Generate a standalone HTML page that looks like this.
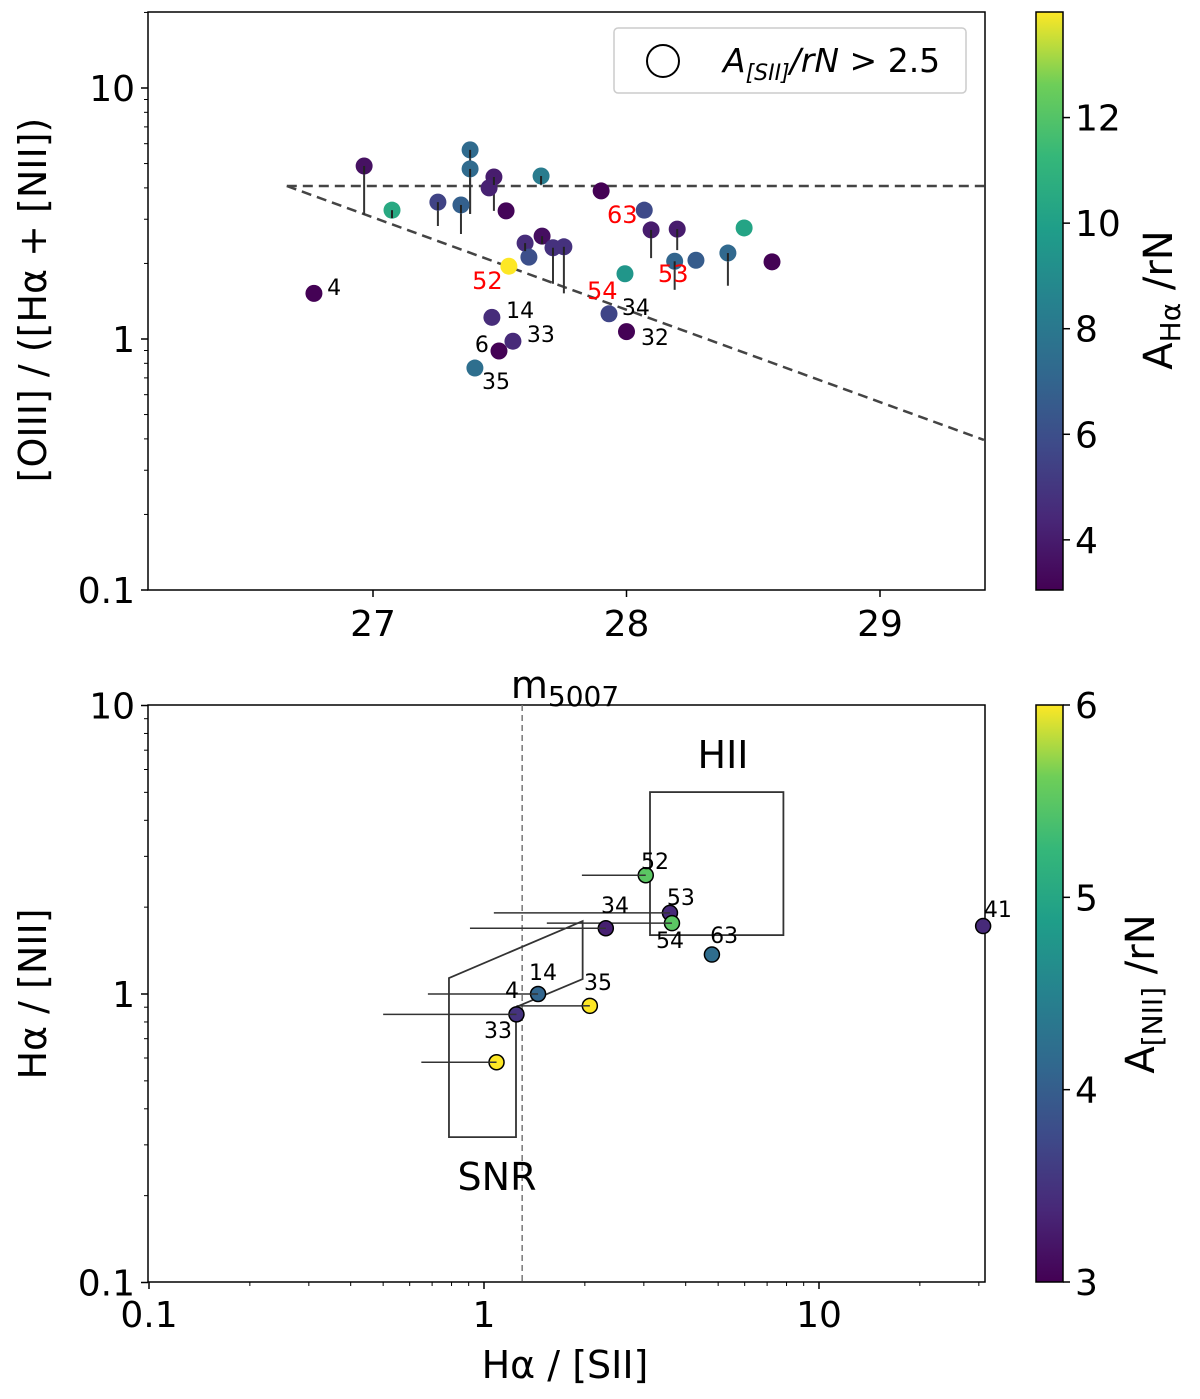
<!DOCTYPE html>
<html><head><meta charset="utf-8"><style>body{margin:0;background:#fff}svg{display:block;font-family:"DejaVu Sans","Liberation Sans",sans-serif}</style></head>
<body>
<svg id="c" width="1200" height="1399" viewBox="0 0 1200 1399" xmlns="http://www.w3.org/2000/svg">
<defs>
<linearGradient id="vir" x1="0" y1="1" x2="0" y2="0">
<stop offset="0" stop-color="#440154"/><stop offset="0.125" stop-color="#482878"/><stop offset="0.25" stop-color="#3e4a89"/><stop offset="0.375" stop-color="#31688e"/><stop offset="0.5" stop-color="#26828e"/><stop offset="0.625" stop-color="#1f9e89"/><stop offset="0.75" stop-color="#35b779"/><stop offset="0.875" stop-color="#6ece58"/><stop offset="1" stop-color="#fde725"/>
</linearGradient>
</defs>
</svg>
<script>
// ---- top panel data ----
const topMag=[26.965,27.075,27.256,27.347,27.383,27.383,27.477,27.458,27.525,27.663,27.9,28.07,28.097,28.2,28.464,27.6,27.667,27.615,27.71,27.753,27.536,28.19,28.274,28.40,28.574,27.994,26.767,27.469,27.552,27.497,27.402,27.931,28.0];
const topRatio=[4.89,3.26,3.51,3.42,5.67,4.76,4.42,4.0,3.24,4.46,3.89,3.26,2.72,2.74,2.77,2.41,2.57,2.12,2.31,2.33,1.95,2.04,2.06,2.20,2.03,1.82,1.52,1.22,0.98,0.896,0.766,1.26,1.07];
const topLow=[3.12,3.2,2.82,2.62,3.15,3.15,3.24,4.0,3.24,4.1,3.89,3.26,2.10,2.26,2.77,2.1,2.5,2.12,1.66,1.52,1.95,1.57,2.06,1.63,2.03,1.82,1.52,1.22,0.98,0.896,0.766,1.26,1.07];
const topColor=[3.6,10.5,5.5,6.8,7.3,7.3,4.0,4.2,3.2,8.2,3.0,5.8,4.0,4.0,10.2,4.6,3.5,6.0,4.8,4.8,14.0,7.0,6.6,7.2,3.1,9.5,3.1,4.6,4.5,3.1,7.5,5.6,3.1];
const topLabels=["4","14","33","6","35","34","32","63","52","54","53"];
const topLabelM=[26.819,27.525,27.607,27.402,27.43,27.982,28.057,27.923,27.391,27.844,28.124];
const topLabelR=[1.497,1.212,0.973,0.888,0.632,1.246,0.946,2.899,1.582,1.443,1.687];
const topLabelRed=[0,0,0,0,0,0,0,1,1,1,1];
// ---- bottom panel data ----
const botS2=[3.04,3.59,3.64,2.31,4.79,1.45,2.07,1.25,1.09,30.9];
const botN2=[2.58,1.91,1.76,1.69,1.37,1.0,0.91,0.85,0.58,1.72];
const botErrLo=[1.96,1.07,1.54,0.908,4.79,0.68,1.25,0.50,0.65,30.9];
const botColor=[5.5,3.4,5.5,3.3,4.2,4.1,6.0,3.5,6.0,3.4];
const botLabels=["52","53","54","34","63","14","35","4","33","41"];
const botLabS2=[3.24,3.87,3.59,2.46,5.21,1.50,2.19,1.212,1.101,34.2];
const botLabN2=[2.71,2.035,1.443,1.91,1.502,1.118,1.032,0.969,0.704,1.849];

const NS="http://www.w3.org/2000/svg",svg=document.getElementById('c');
function mk(t,a,p){const e=document.createElementNS(NS,t);for(const k in a)e.setAttribute(k,a[k]);(p||svg).appendChild(e);return e;}
const VS=["#440154","#482878","#3e4a89","#31688e","#26828e","#1f9e89","#35b779","#6ece58","#fde725"].map(h=>[1,3,5].map(i=>parseInt(h.substr(i,2),16)));
function vir(t){t=Math.max(0,Math.min(1,t))*8;const i=Math.min(7,Math.floor(t)),f=t-i;const a=VS[i],b=VS[i+1];return `rgb(${a.map((v,k)=>Math.round(v+(b[k]-v)*f)).join(',')})`;}
const L=Math.log10;
const tx=m=>373+(m-27)*253.5, ty=r=>339-L(r)*251;
const topCmin=3.05,topCmax=14.0;
const bx=v=>484+L(v)*335, by=v=>994-L(v)*288.5;
const botCmin=3,botCmax=6;

function frame(x0,y0,x1,y1,name){const r=mk('rect',{x:x0,y:y0,width:x1-x0,height:y1-y0,fill:'none',stroke:'#000','stroke-width':1.5});}
function txt(x,y,s,sz,extra){const t=mk('text',Object.assign({x:x,y:y,'font-size':sz},extra||{}));t.textContent=s;return t;}

// ===== TOP PANEL =====
frame(148,12,985,590,'top-plot-frame');
let l=mk('line',{x1:tx(26.66),y1:ty(4.07),x2:985,y2:ty(4.07),stroke:'#444','stroke-width':2.5,'stroke-dasharray':'10,6'});

l=mk('line',{x1:tx(26.66),y1:ty(4.07),x2:tx(29.41),y2:ty(0.396),stroke:'#444','stroke-width':2.5,'stroke-dasharray':'10,6'});

[[0.1,'0.1'],[1,'1'],[10,'10']].forEach(([v,s])=>{mk('line',{x1:141,y1:ty(v),x2:148,y2:ty(v),stroke:'#000','stroke-width':1.5});const t=txt(135,ty(v)+13,s,36,{'text-anchor':'end'});});
for(let d of[0.1,1,10])for(let k=2;k<10;k++){const v=d*k;if(ty(v)<12||ty(v)>590)continue;mk('line',{x1:144,y1:ty(v),x2:148,y2:ty(v),stroke:'#000','stroke-width':1});}
[[27,'27'],[28,'28'],[29,'29']].forEach(([v,s])=>{mk('line',{x1:tx(v),y1:590,x2:tx(v),y2:597,stroke:'#000','stroke-width':1.5});const t=txt(tx(v),636,s,36,{'text-anchor':'middle'});});
let t=txt(565,698,'m',38,{'text-anchor':'middle'});t.innerHTML='m<tspan font-size="28" dy="8">5007</tspan>';
t=txt(0,0,'[OIII] / ([Hα + [NII])',38,{'text-anchor':'middle',transform:'translate(46,300) rotate(-90)'});
topMag.forEach((m,i)=>{if(topLow[i]<topRatio[i]){const e=mk('line',{x1:tx(m),y1:ty(topRatio[i]),x2:tx(m),y2:ty(topLow[i]),stroke:'#333','stroke-width':2});}});
topMag.forEach((m,i)=>{const c=mk('circle',{cx:tx(m),cy:ty(topRatio[i]),r:8.5,fill:vir((topColor[i]-topCmin)/(topCmax-topCmin))});});
topMag.forEach((m,i)=>{if(topLow[i]<topRatio[i]){mk('line',{x1:tx(m),y1:ty(topRatio[i]),x2:tx(m),y2:ty(topRatio[i])+8,stroke:'#222','stroke-width':2});}});
topLabels.forEach((s,i)=>{const e=txt(tx(topLabelM[i]),ty(topLabelR[i]),s,topLabelRed[i]?24:22,{fill:topLabelRed[i]?'#f00':'#000'});});
let g=mk('g',{});
mk('rect',{x:614,y:28,width:352,height:65,rx:4,fill:'#fff',stroke:'#ccc','stroke-width':1.5},g);
mk('circle',{cx:663,cy:61,r:16,fill:'none',stroke:'#000','stroke-width':2},g);
t=mk('text',{x:723,y:72,'font-size':33},g);t.innerHTML='<tspan font-style="italic">A</tspan><tspan font-size="22" dy="8" font-style="italic">[SII]</tspan><tspan dy="-8" font-style="italic">/rN</tspan> &gt; 2.5';
let cb=mk('rect',{x:1036,y:12,width:27,height:578,fill:'url(#vir)',stroke:'#000','stroke-width':1.5});
const cyT=v=>590-(v-topCmin)/(topCmax-topCmin)*578;
[4,6,8,10,12].forEach(v=>{mk('line',{x1:1063,y1:cyT(v),x2:1070,y2:cyT(v),stroke:'#000','stroke-width':1.5});const e=txt(1075,cyT(v)+13,String(v),36);});
t=mk('text',{'font-size':40,'text-anchor':'middle',transform:'translate(1172,300) rotate(-90)'});t.innerHTML='A<tspan font-size="28" dy="8">Hα</tspan><tspan dy="-8"> /rN</tspan>';

// ===== BOTTOM PANEL =====
frame(148,705,985,1282,'bottom-plot-frame');
[[0.1,'0.1'],[1,'1'],[10,'10']].forEach(([v,s])=>{mk('line',{x1:141,y1:by(v),x2:148,y2:by(v),stroke:'#000','stroke-width':1.5});const e=txt(135,by(v)+13,s,36,{'text-anchor':'end'});});
[[0.1,'0.1'],[1,'1'],[10,'10']].forEach(([v,s])=>{mk('line',{x1:bx(v),y1:1282,x2:bx(v),y2:1289,stroke:'#000','stroke-width':1.5});const e=txt(bx(v),1327,s,36,{'text-anchor':'middle'});});
for(let d of[0.1,1,10])for(let k=2;k<10;k++){const v=d*k;if(by(v)>=705)mk('line',{x1:144,y1:by(v),x2:148,y2:by(v),stroke:'#000','stroke-width':1});if(bx(v)<985)mk('line',{x1:bx(v),y1:1282,x2:bx(v),y2:1286,stroke:'#000','stroke-width':1});}
t=txt(565,1378,'Hα / [SII]',38,{'text-anchor':'middle'});
t=txt(0,0,'Hα / [NII]',38,{'text-anchor':'middle',transform:'translate(46,994) rotate(-90)'});
l=mk('line',{x1:bx(1.3),y1:705,x2:bx(1.3),y2:1282,stroke:'#777','stroke-width':1.5,'stroke-dasharray':'6,4'});
let r=mk('rect',{x:bx(3.13),y:by(5.01),width:bx(7.83)-bx(3.13),height:by(1.6)-by(5.01),fill:'none',stroke:'#333','stroke-width':1.8});
const snrS=[0.786,1.97,1.97,1.246,1.246,0.786],snrN=[1.136,1.79,1.127,0.901,0.319,0.319];
let p=mk('polygon',{points:snrS.map((s,i)=>bx(s)+','+by(snrN[i])).join(' '),fill:'none',stroke:'#333','stroke-width':1.8});
t=txt(723,768,'HII',38,{'text-anchor':'middle'});
t=txt(497,1190,'SNR',38,{'text-anchor':'middle'});
botS2.forEach((s,i)=>{if(botErrLo[i]<s){const e=mk('line',{x1:bx(botErrLo[i]),y1:by(botN2[i]),x2:bx(s),y2:by(botN2[i]),stroke:'#333','stroke-width':1.5});}});
botS2.forEach((s,i)=>{const c=mk('circle',{cx:bx(s),cy:by(botN2[i]),r:7.5,fill:vir((botColor[i]-botCmin)/(botCmax-botCmin)),stroke:'#000','stroke-width':1.5});});
botS2.forEach((s,i)=>{if(botErrLo[i]<s)mk('line',{x1:bx(s)-8,y1:by(botN2[i]),x2:bx(s),y2:by(botN2[i]),stroke:'#333','stroke-width':1.5});});
botLabels.forEach((s,i)=>{const e=txt(bx(botLabS2[i]),by(botLabN2[i]),s,22,{'text-anchor':'middle'});});
cb=mk('rect',{x:1036,y:705,width:27,height:577,fill:'url(#vir)',stroke:'#000','stroke-width':1.5});
const cyB=v=>1282-(v-botCmin)/(botCmax-botCmin)*577;
[3,4,5,6].forEach(v=>{mk('line',{x1:1063,y1:cyB(v),x2:1070,y2:cyB(v),stroke:'#000','stroke-width':1.5});const e=txt(1075,cyB(v)+13,String(v),36);});
t=mk('text',{'font-size':40,'text-anchor':'middle',transform:'translate(1154,994) rotate(-90)'});t.innerHTML='A<tspan font-size="28" dy="8">[NII]</tspan><tspan dy="-8"> /rN</tspan>';
</script>
</body></html>
